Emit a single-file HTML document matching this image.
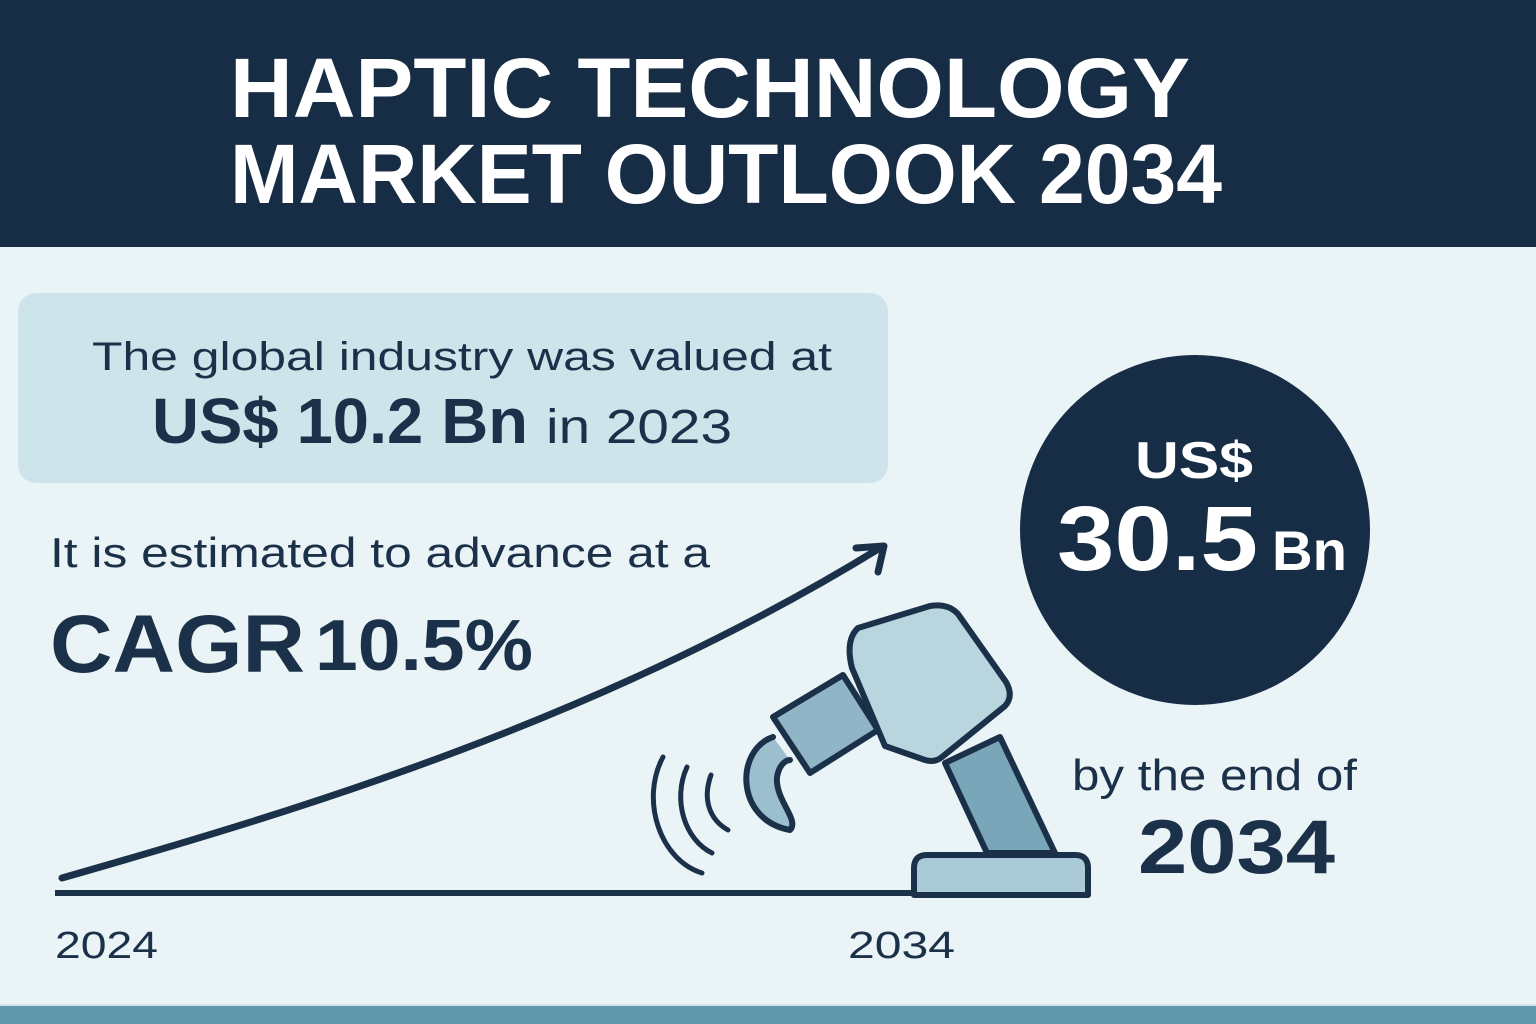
<!DOCTYPE html>
<html><head><meta charset="utf-8"><style>
html,body{margin:0;padding:0;width:1536px;height:1024px;overflow:hidden;background:#eaf3f5}
svg{display:block}
</style></head><body>
<svg width="1536" height="1024" viewBox="0 0 1536 1024" xmlns="http://www.w3.org/2000/svg" font-family="Liberation Sans, sans-serif">
<rect width="1536" height="1024" fill="#eaf3f5"/>
<rect width="1536" height="247" fill="#172d45"/>
<g fill="#ffffff" font-weight="bold" font-size="84">
<text x="230" y="117" textLength="960" lengthAdjust="spacingAndGlyphs">HAPTIC TECHNOLOGY</text>
<text x="230" y="203" textLength="992" lengthAdjust="spacingAndGlyphs">MARKET OUTLOOK 2034</text>
</g>
<rect x="18" y="293" width="870" height="190" rx="18" fill="#cde5ea"/>
<g fill="#1b3049">
<text x="92" y="370" font-size="40" textLength="740" lengthAdjust="spacingAndGlyphs">The global industry was valued at</text>
<text x="152" y="443" font-size="64" font-weight="bold" textLength="376" lengthAdjust="spacingAndGlyphs">US$ 10.2 Bn</text>
<text x="546" y="443" font-size="48" textLength="186" lengthAdjust="spacingAndGlyphs">in 2023</text>
<text x="50" y="567" font-size="42" textLength="660" lengthAdjust="spacingAndGlyphs">It is estimated to advance at a</text>
<text x="50" y="672" font-size="82" font-weight="bold" textLength="255" lengthAdjust="spacingAndGlyphs">CAGR</text>
<text x="315" y="670" font-size="72" font-weight="bold" textLength="218" lengthAdjust="spacingAndGlyphs">10.5%</text>
<text x="1072" y="790" font-size="44" textLength="285" lengthAdjust="spacingAndGlyphs">by the end of</text>
<text x="1138" y="873" font-size="76" font-weight="bold" textLength="197" lengthAdjust="spacingAndGlyphs">2034</text>
<text x="55" y="958" font-size="38" textLength="103" lengthAdjust="spacingAndGlyphs">2024</text>
<text x="848" y="958" font-size="38" textLength="107" lengthAdjust="spacingAndGlyphs">2034</text>
</g>
<circle cx="1195" cy="530" r="175" fill="#172d45"/>
<g fill="#ffffff" font-weight="bold">
<text x="1135" y="478" font-size="52" textLength="118" lengthAdjust="spacingAndGlyphs">US$</text>
<text x="1057" y="570" font-size="92" textLength="201" lengthAdjust="spacingAndGlyphs">30.5</text>
<text x="1272" y="570" font-size="56" textLength="75" lengthAdjust="spacingAndGlyphs">Bn</text>
</g>
<!-- growth line -->
<path d="M62 878 C 300 810, 600 720, 880 548" fill="none" stroke="#1b3049" stroke-width="7" stroke-linecap="round"/>
<path d="M856 548 L884 546 L878 572" fill="none" stroke="#1b3049" stroke-width="7" stroke-linecap="round" stroke-linejoin="round"/>
<!-- baseline -->
<line x1="55" y1="893" x2="1090" y2="893" stroke="#1b3049" stroke-width="6"/>
<!-- robot -->
<g stroke="#1b3049" stroke-width="6" stroke-linejoin="round" stroke-linecap="round">
<path d="M945 763 L1000 737 L1055 853 L987 853 Z" fill="#7aa6ba"/>
<path d="M773 717 L843 675 L878 730 L810 773 Z" fill="#8fb5c6"/>
<path d="M773 737 C 735 750, 735 820, 790 830 C 800 820, 775 800, 777 777 C 780 760, 790 760, 790 760" fill="#9cbfcd"/>
<path d="M858 628 L930 606 Q948 603 958 614 L1006 682 Q1014 696 1005 706 L942 757 Q935 763 925 760 L885 746 L852 668 Q845 640 858 628 Z" fill="#b9d6df"/>
<path d="M914 895 L914 868 Q914 855 927 855 L1075 855 Q1088 855 1088 868 L1088 895 Z" fill="#a9cad6"/>
</g>
<g fill="none" stroke="#1b3049" stroke-width="5" stroke-linecap="round">
<path d="M663 757 C 640 800, 660 860, 702 873"/>
<path d="M687 767 C 672 800, 685 840, 712 853"/>
<path d="M711 775 C 702 800, 710 820, 728 830"/>
</g>
<rect x="0" y="1006" width="1536" height="18" fill="#5f97ac"/>
<rect x="0" y="1004" width="1536" height="2" fill="#cfe4ea"/>
</svg>
</body></html>
